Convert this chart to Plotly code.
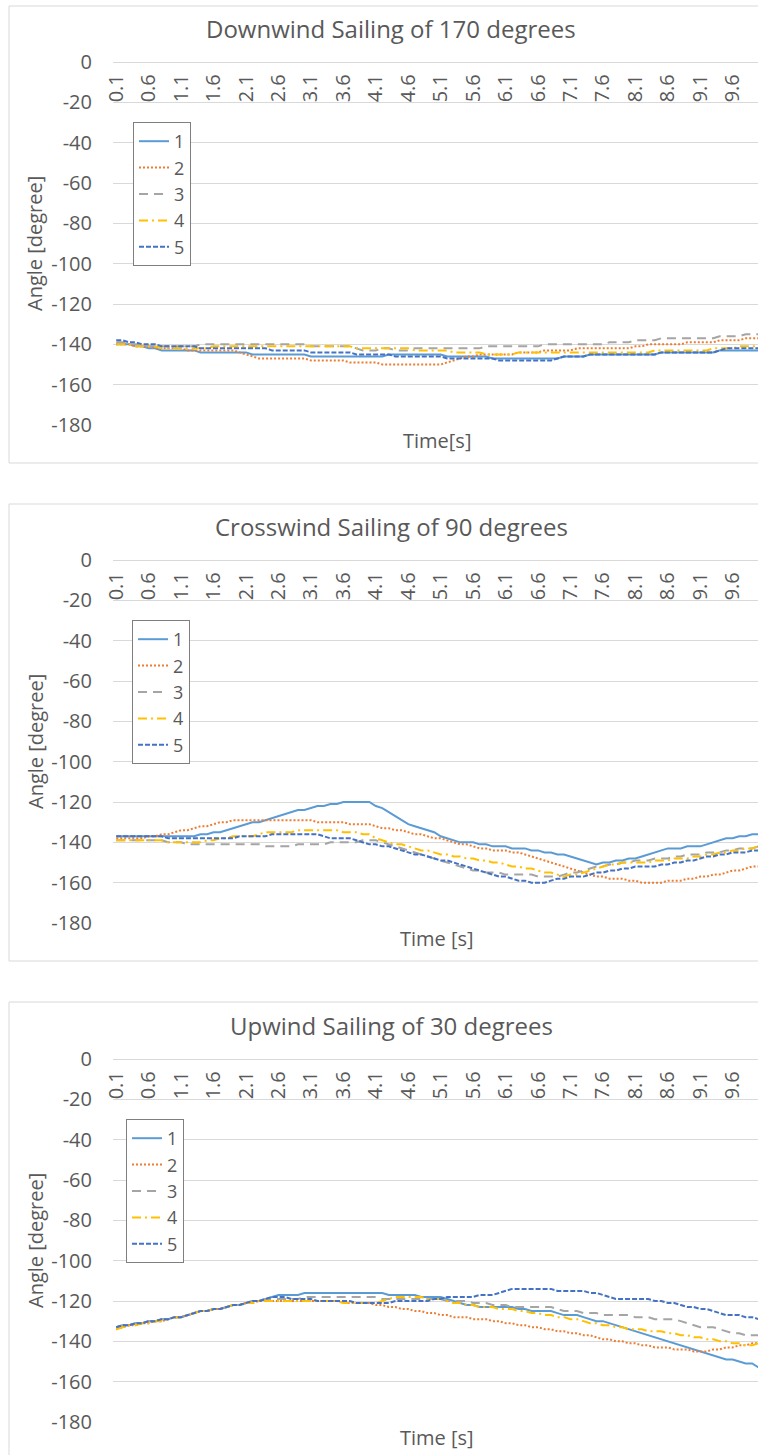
import plotly.graph_objects as go

W, H = 758, 1455

# time categories 0.1 .. 10.0 s
TIME = [round(0.1 * i, 1) for i in range(1, 101)]
TICK_VALS = [0.1, 0.6, 1.1, 1.6, 2.1, 2.6, 3.1, 3.6, 4.1, 4.6, 5.1, 5.6, 6.1, 6.6,
             7.1, 7.6, 8.1, 8.6, 9.1, 9.6]
TICK_TEXT = ["0.1", "0.6", "1.1", "1.6", "2.1", "2.6", "3.1", "3.6", "4.1", "4.6",
             "5.1", "5.6", "6.1", "6.6", "7.1", "7.6", "8.1", "8.6", "9.1", "9.6"]
Y_TICK_VALS = [0, -20, -40, -60, -80, -100, -120, -140, -160, -180]
Y_TICK_TEXT = ["0", "-20", "-40", "-60", "-80", "-100", "-120", "-140", "-160", "-180"]
SERIES_NAMES = ["1", "2", "3", "4", "5"]
TITLES = ["Downwind Sailing of 170 degrees", "Crosswind Sailing of 90 degrees",
          "Upwind Sailing of 30 degrees"]
X_TITLES = ["Time[s]", "Time [s]", "Time [s]"]
Y_TITLE = "Angle [degree]"

# ---------------- Downwind ----------------
DOWN_1 = [-140,-140,-140,-141,-141,-142,-142,-143,-143,-143,
          -143,-143,-143,-144,-144,-144,-144,-144,-144,-144,
          -144,-145,-145,-145,-145,-145,-145,-145,-145,-145,
          -146,-146,-146,-146,-146,-146,-146,-146,-146,-146,
          -146,-146,-145,-145,-145,-145,-145,-145,-145,-145,
          -145,-146,-146,-146,-146,-146,-146,-146,-147,-147,
          -147,-147,-147,-147,-147,-147,-147,-147,-147,-146,
          -146,-146,-146,-145,-145,-145,-145,-145,-145,-145,
          -145,-145,-145,-145,-144,-144,-144,-144,-144,-144,
          -144,-144,-144,-143,-143,-143,-143,-143,-143,-143]
DOWN_2 = [-140,-140,-140,-141,-141,-141,-142,-142,-142,-142,
          -142,-143,-143,-143,-143,-143,-143,-143,-143,-144,
          -145,-146,-147,-147,-147,-147,-147,-147,-147,-147,
          -148,-148,-148,-148,-148,-148,-149,-149,-149,-149,
          -149,-150,-150,-150,-150,-150,-150,-150,-150,-150,
          -150,-149,-148,-147,-146,-146,-145,-145,-145,-145,
          -145,-145,-144,-144,-144,-144,-143,-143,-143,-143,
          -143,-142,-142,-142,-142,-142,-142,-142,-142,-142,
          -141,-141,-140,-140,-140,-140,-140,-140,-139,-139,
          -139,-139,-139,-138,-138,-138,-138,-137,-137,-137]
DOWN_3 = [-139,-139,-140,-140,-141,-141,-141,-141,-141,-141,
          -141,-141,-141,-140,-140,-140,-140,-140,-140,-140,
          -140,-140,-140,-140,-140,-140,-140,-140,-140,-140,
          -141,-141,-141,-141,-141,-141,-141,-142,-143,-143,
          -143,-142,-142,-143,-143,-143,-142,-142,-142,-142,
          -142,-142,-142,-142,-142,-142,-142,-141,-141,-141,
          -141,-141,-141,-141,-141,-141,-140,-140,-140,-140,
          -140,-140,-140,-140,-140,-140,-139,-139,-139,-139,
          -138,-138,-138,-138,-137,-137,-137,-137,-137,-137,
          -137,-137,-137,-136,-136,-136,-136,-135,-135,-135]
DOWN_4 = [-140,-140,-140,-141,-141,-141,-141,-142,-142,-142,
          -142,-142,-142,-142,-142,-141,-141,-141,-141,-141,
          -141,-141,-141,-141,-141,-141,-141,-141,-141,-141,
          -141,-141,-141,-141,-141,-141,-141,-142,-142,-142,
          -142,-142,-142,-142,-142,-142,-143,-143,-143,-143,
          -143,-143,-144,-144,-144,-144,-144,-145,-145,-145,
          -145,-145,-144,-144,-144,-144,-144,-144,-144,-144,
          -144,-144,-144,-144,-144,-144,-144,-144,-144,-144,
          -144,-144,-144,-143,-143,-143,-143,-143,-143,-143,
          -143,-143,-142,-142,-142,-142,-141,-141,-141,-141]
DOWN_5 = [-138,-138,-139,-139,-140,-140,-140,-141,-141,-141,
          -141,-141,-141,-142,-142,-142,-142,-142,-142,-142,
          -142,-142,-142,-142,-143,-143,-143,-143,-143,-143,
          -144,-144,-144,-144,-144,-144,-144,-145,-145,-145,
          -145,-145,-145,-146,-146,-146,-146,-146,-146,-146,
          -146,-147,-147,-147,-147,-147,-147,-147,-147,-148,
          -148,-148,-148,-148,-148,-148,-148,-148,-147,-146,
          -146,-146,-146,-145,-145,-145,-145,-145,-145,-145,
          -145,-145,-145,-145,-144,-144,-144,-144,-144,-144,
          -144,-144,-144,-143,-142,-142,-142,-142,-142,-142]

# ---------------- Crosswind ----------------
CROSS_1 = [-137,-137,-137,-137,-137,-137,-137,-137,-137,-137,
           -137,-137,-137,-136,-136,-135,-135,-134,-133,-132,
           -131,-130,-130,-129,-128,-127,-126,-125,-124,-124,
           -123,-122,-122,-121,-121,-120,-120,-120,-120,-120,
           -122,-123,-125,-127,-129,-131,-132,-133,-134,-135,
           -137,-138,-139,-140,-140,-140,-141,-141,-142,-142,
           -142,-143,-143,-143,-144,-144,-145,-145,-146,-146,
           -147,-148,-149,-150,-151,-150,-150,-149,-149,-148,
           -148,-147,-146,-145,-144,-143,-143,-143,-142,-142,
           -142,-141,-140,-139,-138,-138,-137,-137,-136,-136]
CROSS_2 = [-138,-138,-138,-138,-138,-137,-137,-136,-136,-135,
           -134,-134,-133,-132,-132,-131,-130,-130,-129,-129,
           -129,-129,-129,-129,-129,-129,-129,-129,-129,-129,
           -129,-130,-130,-130,-130,-130,-131,-131,-131,-131,
           -132,-133,-133,-134,-134,-135,-136,-136,-137,-138,
           -138,-139,-140,-141,-141,-142,-143,-143,-144,-144,
           -144,-145,-145,-146,-147,-148,-149,-150,-151,-152,
           -153,-154,-155,-156,-157,-157,-158,-158,-158,-159,
           -159,-160,-160,-160,-160,-159,-159,-159,-158,-158,
           -157,-157,-156,-156,-155,-154,-154,-153,-152,-152]
CROSS_3 = [-139,-139,-139,-139,-139,-139,-139,-139,-140,-140,
           -140,-141,-141,-141,-141,-141,-141,-141,-141,-141,
           -141,-141,-141,-142,-142,-142,-142,-142,-141,-141,
           -141,-141,-141,-140,-140,-140,-140,-140,-139,-139,
           -139,-140,-141,-142,-143,-144,-145,-146,-147,-148,
           -149,-150,-151,-152,-153,-154,-154,-155,-155,-155,
           -156,-156,-156,-156,-156,-157,-157,-157,-157,-156,
           -155,-155,-154,-153,-152,-152,-151,-151,-150,-150,
           -149,-149,-149,-148,-148,-148,-147,-147,-146,-146,
           -146,-145,-145,-145,-144,-144,-143,-143,-143,-142]
CROSS_4 = [-139,-139,-139,-139,-139,-139,-139,-139,-140,-140,
           -140,-140,-140,-140,-139,-139,-138,-138,-137,-137,
           -137,-137,-136,-135,-135,-135,-135,-135,-134,-134,
           -134,-134,-134,-134,-134,-135,-135,-135,-136,-136,
           -138,-139,-140,-141,-141,-142,-143,-144,-144,-145,
           -146,-146,-147,-147,-148,-148,-149,-149,-150,-150,
           -151,-152,-152,-153,-153,-154,-155,-155,-156,-157,
           -156,-156,-155,-154,-153,-152,-151,-151,-150,-150,
           -150,-150,-150,-149,-149,-149,-148,-148,-148,-147,
           -147,-146,-146,-145,-145,-144,-144,-143,-143,-142]
CROSS_5 = [-137,-137,-137,-137,-137,-137,-137,-137,-138,-138,
           -138,-138,-138,-138,-138,-138,-138,-138,-138,-137,
           -137,-137,-137,-137,-136,-136,-136,-136,-136,-136,
           -136,-136,-137,-138,-138,-138,-138,-139,-140,-141,
           -141,-142,-142,-143,-144,-145,-146,-146,-147,-148,
           -149,-149,-150,-151,-152,-153,-154,-155,-156,-157,
           -157,-158,-159,-159,-160,-160,-160,-159,-158,-158,
           -157,-157,-157,-156,-155,-155,-154,-154,-153,-153,
           -152,-152,-152,-152,-151,-151,-150,-150,-149,-149,
           -148,-147,-147,-146,-146,-145,-145,-145,-144,-144]

# ---------------- Upwind ----------------
UP_1 = [-133,-132,-132,-131,-131,-130,-130,-129,-129,-128,
        -128,-127,-126,-125,-125,-124,-124,-123,-122,-122,
        -121,-120,-120,-119,-118,-117,-117,-117,-117,-116,
        -116,-116,-116,-116,-116,-116,-116,-116,-116,-116,
        -116,-116,-117,-117,-117,-117,-117,-118,-118,-118,
        -118,-119,-120,-121,-122,-122,-123,-123,-123,-123,
        -123,-123,-124,-124,-125,-125,-125,-125,-126,-127,
        -127,-127,-128,-129,-130,-130,-131,-132,-133,-134,
        -135,-136,-137,-138,-139,-140,-141,-142,-143,-144,
        -145,-146,-147,-148,-149,-149,-150,-151,-151,-153]
UP_2 = [-134,-133,-132,-132,-131,-131,-130,-130,-129,-128,
        -128,-127,-126,-125,-125,-124,-124,-123,-122,-122,
        -121,-121,-120,-120,-120,-120,-120,-120,-120,-120,
        -120,-120,-120,-120,-120,-121,-121,-121,-121,-121,
        -122,-122,-123,-123,-124,-124,-125,-125,-126,-126,
        -127,-127,-128,-128,-128,-129,-129,-129,-130,-130,
        -131,-131,-132,-132,-133,-133,-134,-134,-135,-135,
        -136,-136,-137,-137,-138,-139,-139,-140,-140,-141,
        -141,-142,-142,-143,-143,-143,-144,-144,-144,-145,
        -145,-145,-144,-144,-143,-143,-142,-142,-141,-141]
UP_3 = [-133,-132,-132,-131,-131,-130,-130,-129,-129,-128,
        -128,-127,-126,-125,-125,-124,-124,-123,-122,-122,
        -121,-120,-120,-119,-119,-119,-119,-119,-119,-118,
        -118,-118,-118,-118,-118,-118,-118,-118,-118,-118,
        -118,-119,-119,-119,-119,-119,-119,-119,-119,-119,
        -119,-120,-120,-120,-120,-121,-121,-121,-122,-122,
        -122,-123,-123,-123,-123,-123,-123,-123,-124,-125,
        -125,-125,-126,-126,-126,-127,-127,-127,-127,-127,
        -128,-128,-128,-129,-129,-129,-129,-130,-131,-132,
        -133,-133,-133,-134,-135,-136,-136,-137,-137,-137]
UP_4 = [-134,-133,-132,-132,-131,-131,-130,-130,-129,-128,
        -128,-127,-126,-125,-125,-124,-124,-123,-122,-122,
        -121,-121,-120,-120,-120,-120,-120,-120,-120,-120,
        -120,-120,-120,-120,-120,-121,-121,-121,-121,-121,
        -121,-120,-119,-118,-118,-118,-118,-118,-119,-119,
        -119,-120,-121,-121,-122,-122,-123,-123,-123,-124,
        -124,-124,-125,-125,-126,-126,-127,-127,-128,-128,
        -129,-129,-130,-131,-131,-132,-132,-133,-133,-134,
        -134,-134,-135,-135,-135,-136,-136,-137,-137,-138,
        -138,-139,-139,-140,-140,-141,-141,-142,-142,-141]
UP_5 = [-133,-132,-132,-131,-131,-130,-130,-129,-129,-128,
        -128,-127,-126,-125,-125,-124,-124,-123,-122,-122,
        -121,-120,-120,-119,-118,-118,-118,-119,-119,-119,
        -119,-120,-120,-120,-120,-120,-120,-121,-121,-121,
        -121,-121,-121,-120,-120,-120,-120,-120,-120,-119,
        -119,-118,-118,-118,-118,-118,-117,-117,-117,-116,
        -115,-114,-114,-114,-114,-114,-114,-114,-115,-115,
        -115,-115,-115,-116,-116,-117,-118,-119,-119,-119,
        -119,-119,-119,-120,-120,-121,-121,-122,-123,-123,
        -124,-124,-125,-126,-127,-127,-127,-128,-128,-129]

CHARTS = [
    [DOWN_1, DOWN_2, DOWN_3, DOWN_4, DOWN_5],
    [CROSS_1, CROSS_2, CROSS_3, CROSS_4, CROSS_5],
    [UP_1, UP_2, UP_3, UP_4, UP_5],
]

COLORS = ["#5B9BD5", "#ED7D31", "#A5A5A5", "#FFC000", "#4472C4"]
DASHES = ["solid", "2px,2px", "9px,6px", "9px,4px,2px,4px", "5px,2px"]
WIDTHS = [2, 2, 2, 2, 2]

FONT = "Open Sans"
TXT = "#595959"
GRID = "#d9d9d9"


def fx(px):
    return px / W


def fy(py):
    return 1 - py / H


OFFSETS = [0, 498, 997]
LEGEND_X = [133, 132, 126]

fig = go.Figure()
layout = dict(
    width=W, height=H, autosize=False,
    margin=dict(l=0, r=0, t=0, b=0, pad=0, autoexpand=False),
    paper_bgcolor="white", plot_bgcolor="white",
    font=dict(family=FONT, color=TXT),
    annotations=[], shapes=[],
)

for k, series in enumerate(CHARTS):
    dy = OFFSETS[k]
    sfx = "" if k == 0 else str(k + 1)
    xname, yname = "x" + sfx, "y" + sfx
    lname = "legend" + sfx
    for j, vals in enumerate(series):
        fig.add_trace(go.Scatter(
            x=TIME, y=vals, mode="lines", name=SERIES_NAMES[j],
            xaxis=xname, yaxis=yname, legend=lname,
            line=dict(color=COLORS[j], width=WIDTHS[j], dash=DASHES[j]),
            hoverinfo="skip",
        ))
    y_top, y_bot = 62 + dy, 425 + dy
    pos_m20 = y_top + (y_bot - y_top) * 20 / 180
    layout["xaxis" + sfx] = dict(
        domain=[fx(113), 1], range=[0.05, 9.99], anchor="free",
        position=fy(pos_m20), side="top", showgrid=False, zeroline=False,
        showline=False, ticks="", tickangle=-90, tickmode="array",
        tickvals=TICK_VALS, ticktext=TICK_TEXT, automargin=False,
        tickfont=dict(family=FONT, size=20, color=TXT),
    )
    layout["yaxis" + sfx] = dict(
        domain=[fy(y_bot), fy(y_top)], range=[-180, 0], anchor=xname,
        tickmode="array", tickvals=Y_TICK_VALS, ticktext=Y_TICK_TEXT,
        showgrid=True, gridcolor=GRID, gridwidth=1,
        zeroline=True, zerolinecolor=GRID, zerolinewidth=1, showline=False,
        ticks="", ticklabelstandoff=20, automargin=False,
        tickfont=dict(family=FONT, size=20, color=TXT),
    )
    layout[lname] = dict(
        x=fx(LEGEND_X[k]), y=fy(122 + dy), xanchor="left", yanchor="top",
        bordercolor="#7f7f7f", borderwidth=1, bgcolor="white",
        font=dict(family=FONT, size=18, color=TXT), itemwidth=30,
        tracegroupgap=0,
    )
    # chart border
    layout["shapes"].append(dict(
        type="rect", xref="paper", yref="paper",
        x0=fx(9), x1=fx(800), y0=fy(6 + dy if k < 2 else 1002),
        y1=fy(463 + dy if k < 2 else 1480),
        line=dict(color=GRID, width=1), fillcolor="rgba(0,0,0,0)", layer="below",
    ))
    layout["annotations"] += [
        dict(text=TITLES[k], xref="paper", yref="paper", x=fx(391), y=fy(28 + dy),
             xanchor="center", yanchor="middle", showarrow=False,
             font=dict(family=FONT, size=24, color=TXT)),
        dict(text=X_TITLES[k], xref="paper", yref="paper", x=fx(437), y=fy(440 + dy),
             xanchor="center", yanchor="middle", showarrow=False,
             font=dict(family=FONT, size=20, color=TXT)),
        dict(text=Y_TITLE, xref="paper", yref="paper", x=fx(35), y=fy(244 + dy),
             xanchor="center", yanchor="middle", showarrow=False, textangle=-90,
             font=dict(family=FONT, size=20, color=TXT)),
    ]

fig.update_layout(**layout)
fig.write_html("out.html",
               config={"displayModeBar": False},
               post_script="document.body.style.margin='0';"
                           "document.body.style.overflow='hidden';")
